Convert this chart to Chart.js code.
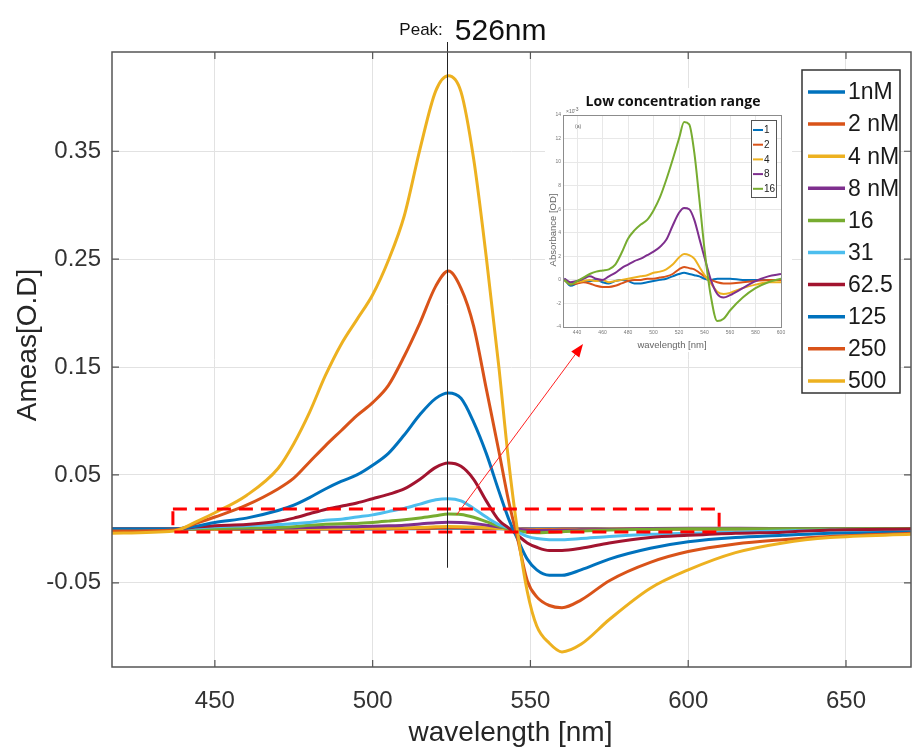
<!DOCTYPE html>
<html>
<head>
<meta charset="utf-8">
<title>Absorbance spectra</title>
<script src="https://cdn.jsdelivr.net/npm/chart.js@4.4.0/dist/chart.umd.min.js"></script>
<style>
  html, body { margin: 0; padding: 0; background: #fff; }
  #wrap { position: relative; width: 912px; height: 749px; overflow: hidden; }
  #main { position: absolute; left: 0; top: 0; }
  #inset { position: absolute; left: 545px; top: 88px; }
  #overlay { position: absolute; left: 0; top: 0; pointer-events: none; }
</style>
</head>
<body>
<div id="wrap">
  <canvas id="main" width="912" height="749"></canvas>
  <canvas id="inset" width="247" height="264"></canvas>
  <canvas id="overlay" width="912" height="749"></canvas>
</div>
<script>
// ---- main plot data (wavelength in nm, A_meas in O.D) ----
const wavelength = [417, 437, 445, 450, 460, 470, 475, 480, 485, 490,
  495, 500, 505, 510, 515, 520, 524, 528, 532, 536,
  540, 543, 546, 549, 552, 556, 560, 566, 575, 588,
  600, 615, 630, 645, 671];

const a1 = [0.0001, -0.0004, -0.0001, 0.0000, -0.0001, -0.0003, -0.0001, 0.0000, -0.0002, -0.0003,
  -0.0002, -0.0001, 0.0000, 0.0001, 0.0003, 0.0005, 0.0006, 0.0005, 0.0004, 0.0002,
  0.0001, 0.0000, 0.0000, 0.0001, 0.0001, 0.0001, 0.0001, 0.0001, 0.0000, 0.0000,
  0.0000, 0.0000, 0.0000, 0.0000, 0.0000];
const a2 = [0.0000, -0.0002, -0.0003, -0.0004, -0.0006, -0.0005, -0.0003, -0.0001, 0.0000, 0.0000,
  0.0001, 0.0001, 0.0002, 0.0003, 0.0005, 0.0009, 0.0011, 0.0010, 0.0009, 0.0006,
  0.0003, 0.0001, -0.0001, -0.0002, -0.0003, -0.0003, -0.0002, -0.0002, -0.0001, 0.0000,
  0.0000, 0.0000, 0.0000, 0.0000, 0.0000];
const a4 = [-0.0001, -0.0002, -0.0001, 0.0000, 0.0000, -0.0001, 0.0000, 0.0001, 0.0002, 0.0003,
  0.0004, 0.0006, 0.0007, 0.0009, 0.0013, 0.0019, 0.0022, 0.0021, 0.0018, 0.0011,
  0.0004, 0.0000, -0.0004, -0.0008, -0.0011, -0.0012, -0.0010, -0.0008, -0.0005, -0.0002,
  -0.0002, -0.0001, -0.0001, 0.0000, 0.0000];
const a8 = [0.0000, -0.0001, 0.0001, 0.0003, 0.0001, 0.0005, 0.0009, 0.0013, 0.0016, 0.0018,
  0.0021, 0.0024, 0.0028, 0.0034, 0.0046, 0.0057, 0.0061, 0.0060, 0.0051, 0.0035,
  0.0018, 0.0006, -0.0003, -0.0010, -0.0014, -0.0015, -0.0012, -0.0009, -0.0005, 0.0003,
  0.0005, 0.0005, 0.0004, 0.0003, 0.0002];
const a16 = [0.0000, 0.0000, 0.0002, 0.0004, 0.0008, 0.0012, 0.0020, 0.0034, 0.0042, 0.0048,
  0.0051, 0.0060, 0.0072, 0.0085, 0.0102, 0.0122, 0.0138, 0.0134, 0.0108, 0.0068,
  0.0026, -0.0002, -0.0020, -0.0032, -0.0035, -0.0031, -0.0026, -0.0019, -0.0011, -0.0003,
  0.0001, 0.0002, 0.0002, 0.0001, 0.0001];
const a31 = [0.000, 0.000, 0.001, 0.002, 0.003, 0.004, 0.005, 0.006, 0.008, 0.009,
  0.011, 0.013, 0.016, 0.019, 0.023, 0.027, 0.028, 0.026, 0.019, 0.011,
  0.004, 0.001, -0.003, -0.007, -0.009, -0.010, -0.010, -0.009, -0.007, -0.005,
  -0.004, -0.003, -0.002, -0.001, -0.001];
const a62 = [0.000, 0.000, 0.002, 0.003, 0.004, 0.007, 0.010, 0.014, 0.018, 0.021,
  0.024, 0.028, 0.032, 0.037, 0.046, 0.057, 0.061, 0.058, 0.046, 0.026,
  0.008, 0.001, -0.006, -0.013, -0.017, -0.020, -0.020, -0.018, -0.013, -0.008,
  -0.006, -0.004, -0.003, -0.001, 0.000];
const a125 = [0.000, 0.000, 0.003, 0.006, 0.010, 0.017, 0.022, 0.029, 0.037, 0.044,
  0.050, 0.059, 0.070, 0.087, 0.106, 0.121, 0.126, 0.121, 0.099, 0.070,
  0.035, 0.010, -0.010, -0.028, -0.038, -0.043, -0.043, -0.038, -0.028, -0.018,
  -0.012, -0.008, -0.006, -0.004, -0.003];
const a250 = [-0.002, -0.001, 0.006, 0.011, 0.022, 0.037, 0.047, 0.062, 0.077, 0.091,
  0.105, 0.117, 0.133, 0.160, 0.191, 0.225, 0.239, 0.223, 0.188, 0.130,
  0.072, 0.027, -0.010, -0.048, -0.063, -0.071, -0.073, -0.066, -0.048, -0.031,
  -0.021, -0.014, -0.010, -0.007, -0.004];
const a500 = [-0.004, -0.002, 0.008, 0.015, 0.031, 0.056, 0.079, 0.108, 0.142, 0.171,
  0.194, 0.217, 0.249, 0.290, 0.352, 0.406, 0.420, 0.405, 0.343, 0.252,
  0.150, 0.065, -0.004, -0.058, -0.090, -0.106, -0.114, -0.107, -0.084, -0.055,
  -0.038, -0.022, -0.013, -0.008, -0.005];

const mainLabels = ['1nM', '2 nM', '4 nM', '8 nM', '16', '31', '62.5', '125', '250', '500'];
const mainSeries = [a1, a2, a4, a8, a16, a31, a62, a125, a250, a500];
const xTicks = [450, 500, 550, 600, 650];
const yTicks = [-0.05, 0.05, 0.15, 0.25, 0.35];

// annotations
const peakWl = 523.5;
const zoomBoxWl = [436.7, 609.8];
const zoomBoxOD = [-0.0028, 0.0185];
const arrowFrom = [526.6, 0.013];

// ---- inset data (Absorbance x 10^-3) ----
const insetWl = [430, 435, 440, 445, 450, 455, 460, 465, 470, 475,
  480, 485, 490, 495, 500, 505, 510, 515, 520, 524,
  528, 532, 536, 540, 545, 550, 555, 560, 570, 580,
  590, 600];
const i1 = [0.1, -0.5, -0.3, -0.1, -0.1, 0.0, -0.2, -0.3, -0.1, 0.0,
  -0.1, -0.3, -0.3, -0.2, -0.1, 0.0, 0.1, 0.3, 0.5, 0.6,
  0.5, 0.4, 0.3, 0.1, 0.0, 0.1, 0.1, 0.1, 0.0, 0.0, 0.0, 0.0];
const i2 = [0.0, -0.4, -0.3, -0.2, -0.3, -0.5, -0.6, -0.6, -0.5, -0.3,
  -0.1, 0.0, 0.0, 0.1, 0.1, 0.2, 0.3, 0.5, 0.9, 1.1,
  1.0, 0.9, 0.6, 0.3, 0.0, -0.2, -0.3, -0.3, -0.2, -0.1, 0.0, 0.0];
const i4 = [0.0, -0.3, -0.2, -0.1, 0.0, -0.1, 0.0, -0.2, -0.1, 0.0,
  0.1, 0.2, 0.3, 0.4, 0.6, 0.7, 0.9, 1.3, 1.9, 2.2,
  2.1, 1.8, 1.1, 0.4, -0.3, -1.0, -1.2, -1.1, -0.7, -0.4, -0.2, -0.2];
const i8 = [0.1, -0.2, -0.1, 0.1, 0.3, 0.1, 0.0, 0.3, 0.6, 1.0,
  1.3, 1.6, 1.8, 2.1, 2.4, 2.8, 3.4, 4.6, 5.7, 6.1,
  6.0, 5.1, 3.5, 1.9, 0.0, -1.2, -1.5, -1.3, -0.7, -0.1, 0.3, 0.5];
const i16 = [0.0, -0.4, -0.1, 0.2, 0.5, 0.7, 0.8, 0.9, 1.3, 2.3,
  3.5, 4.2, 4.7, 5.1, 5.9, 7.0, 8.5, 10.2, 12.0, 13.4,
  13.2, 10.8, 6.8, 2.6, -1.4, -3.5, -3.3, -2.6, -1.5, -0.7, -0.2, 0.1];

const insetLabels = ['1', '2', '4', '8', '16'];
const insetSeries = [i1, i2, i4, i8, i16];
const insetXTicks = [440, 460, 480, 500, 520, 540, 560, 580, 600];

// matlab default colour order
const colors = ['#0072BD', '#D95319', '#EDB120', '#7E2F8E', '#77AC30', '#4DBEEE', '#A2142F'];
const mainColors = [0, 1, 2, 3, 4, 5, 6, 0, 1, 2].map(k => colors[k]);

const FONT = "'Liberation Sans', Arial, sans-serif";
const NARROW = "'Liberation Sans Narrow', 'Liberation Sans', Arial, sans-serif";

const mainDecor = {
  id: 'mainDecor',
  afterDatasetsDraw(chart) {
    const { ctx, scales: { x, y }, chartArea } = chart;
    ctx.save();
    // dashed zoom box
    const x0 = x.getPixelForValue(zoomBoxWl[0]);
    const x1 = x.getPixelForValue(zoomBoxWl[1]);
    const y0 = y.getPixelForValue(zoomBoxOD[1]);
    const y1 = y.getPixelForValue(zoomBoxOD[0]);
    ctx.strokeStyle = '#ff0000';
    ctx.lineWidth = 3;
    ctx.setLineDash([14, 8]);
    ctx.strokeRect(x0, y0, x1 - x0, y1 - y0);
    ctx.setLineDash([]);
    // peak marker
    const px = Math.round(x.getPixelForValue(peakWl)) + 0.5;
    ctx.strokeStyle = '#222';
    ctx.lineWidth = 1;
    ctx.beginPath();
    ctx.moveTo(px, chartArea.top - 10);
    ctx.lineTo(px, y.getPixelForValue(-0.036));
    ctx.stroke();
    ctx.restore();
  },
  afterDraw(chart) {
    const { ctx, scales: { x, y }, chartArea: a } = chart;
    ctx.save();
    // axes box
    ctx.strokeStyle = '#555';
    ctx.lineWidth = 1.5;
    ctx.strokeRect(a.left, a.top, a.right - a.left, a.bottom - a.top);
    // inward ticks
    ctx.lineWidth = 1.2;
    ctx.beginPath();
    xTicks.forEach(v => {
      const p = x.getPixelForValue(v);
      ctx.moveTo(p, a.bottom); ctx.lineTo(p, a.bottom - 7);
      ctx.moveTo(p, a.top); ctx.lineTo(p, a.top + 7);
    });
    yTicks.forEach(v => {
      const p = y.getPixelForValue(v);
      ctx.moveTo(a.left, p); ctx.lineTo(a.left + 7, p);
      ctx.moveTo(a.right, p); ctx.lineTo(a.right - 7, p);
    });
    ctx.stroke();

    // axis titles
    ctx.fillStyle = '#262626';
    ctx.font = '28px ' + FONT;
    ctx.textAlign = 'center';
    ctx.textBaseline = 'middle';
    ctx.fillText('wavelength [nm]', (a.left + a.right) / 2 - 1, 733);
    ctx.save();
    ctx.translate(36, 345);
    ctx.rotate(-Math.PI / 2);
    ctx.textBaseline = 'alphabetic';
    ctx.fillText('Ameas[O.D]', 0, 0);
    ctx.restore();

    // peak label
    const px = x.getPixelForValue(peakWl);
    ctx.textBaseline = 'alphabetic';
    ctx.textAlign = 'right';
    ctx.font = '17px ' + NARROW;
    ctx.fillStyle = '#111';
    ctx.fillText('Peak:', px - 4, 35);
    ctx.textAlign = 'left';
    ctx.font = '30px ' + NARROW;
    ctx.fillText('526nm', px + 8, 40);

    // legend
    const lx = 802, ly = 70, lw = 98, lh = 323;
    ctx.fillStyle = '#fff';
    ctx.fillRect(lx, ly, lw, lh);
    ctx.strokeStyle = '#333';
    ctx.lineWidth = 1.5;
    ctx.strokeRect(lx, ly, lw, lh);
    ctx.font = '23px ' + FONT;
    ctx.textBaseline = 'middle';
    ctx.textAlign = 'left';
    mainLabels.forEach((lab, i) => {
      const cy = 92 + i * 32.1;
      ctx.strokeStyle = mainColors[i];
      ctx.lineWidth = 3.5;
      ctx.beginPath();
      ctx.moveTo(808, cy); ctx.lineTo(845, cy);
      ctx.stroke();
      ctx.fillStyle = '#1a1a1a';
      ctx.fillText(lab, 848, cy + 1);
    });
    ctx.restore();
  }
};

const mainChart = new Chart(document.getElementById('main'), {
  type: 'line',
  data: {
    datasets: mainSeries.map((s, i) => ({
      label: mainLabels[i],
      data: wavelength.map((w, j) => ({ x: w, y: s[j] })),
      borderColor: mainColors[i],
      borderWidth: 3,
      pointRadius: 0,
      fill: false,
      cubicInterpolationMode: 'monotone',
      order: mainSeries.length - i
    }))
  },
  options: {
    responsive: false,
    animation: false,
    devicePixelRatio: 1,
    layout: { padding: { top: 52, right: 1, left: 0, bottom: 0 } },
    plugins: { legend: { display: false }, tooltip: { enabled: false } },
    scales: {
      x: {
        type: 'linear',
        min: 417.4,
        max: 670.6,
        afterBuildTicks: s => { s.ticks = xTicks.map(v => ({ value: v })); },
        afterFit: s => { s.height = 82; },
        grid: { color: '#e2e2e2', drawTicks: false },
        border: { display: false },
        ticks: {
          color: '#333', font: { size: 24, family: FONT }, padding: 20, maxRotation: 0,
          callback: v => String(v)
        }
      },
      y: {
        min: -0.128,
        max: 0.442,
        afterBuildTicks: s => { s.ticks = yTicks.map(v => ({ value: v })); },
        afterFit: s => { s.width = 112; },
        grid: { color: '#e2e2e2', drawTicks: false },
        border: { display: false },
        ticks: {
          color: '#333', font: { size: 24, family: FONT }, padding: 11,
          callback: v => v.toFixed(2)
        }
      }
    }
  },
  plugins: [mainDecor]
});

const insetDecor = {
  id: 'insetDecor',
  beforeDraw(chart) {
    const { ctx, width, height } = chart;
    ctx.save();
    ctx.fillStyle = '#fff';
    ctx.fillRect(0, 0, width, height);
    ctx.restore();
  },
  afterDraw(chart) {
    const { ctx, chartArea: a } = chart;
    ctx.save();
    ctx.strokeStyle = '#8c8c8c';
    ctx.lineWidth = 1;
    ctx.strokeRect(a.left + 0.5, a.top + 0.5, a.right - a.left, a.bottom - a.top);

    ctx.fillStyle = '#111';
    ctx.font = "bold 14px 'Open Sans', sans-serif";
    ctx.textAlign = 'center';
    ctx.textBaseline = 'middle';
    ctx.fillText('Low concentration range', 128, 14);

    ctx.fillStyle = '#666';
    ctx.font = '9.5px ' + FONT;
    ctx.fillText('wavelength [nm]', 127, 257);
    ctx.save();
    ctx.translate(8, 142);
    ctx.rotate(-Math.PI / 2);
    ctx.fillText('Absorbance [OD]', 0, 0);
    ctx.restore();

    ctx.font = '5px ' + FONT;
    ctx.textAlign = 'left';
    ctx.fillText('\u00d710', 21, 24);
    ctx.fillText('-3', 29, 22);
    ctx.fillText('(a)', 30, 39);

    // legend
    const lx = 206, ly = 32, lw = 25, lh = 77;
    ctx.fillStyle = '#fff';
    ctx.fillRect(lx, ly, lw, lh);
    ctx.strokeStyle = '#555';
    ctx.strokeRect(lx + 0.5, ly + 0.5, lw, lh);
    ctx.font = '10px ' + FONT;
    ctx.textBaseline = 'middle';
    insetLabels.forEach((lab, i) => {
      const cy = 42 + i * 14.7;
      ctx.strokeStyle = colors[i];
      ctx.lineWidth = 2;
      ctx.beginPath();
      ctx.moveTo(208, cy); ctx.lineTo(218, cy);
      ctx.stroke();
      ctx.fillStyle = '#222';
      ctx.fillText(lab, 219, cy + 0.5);
    });
    ctx.restore();
  }
};

const insetChart = new Chart(document.getElementById('inset'), {
  type: 'line',
  data: {
    datasets: insetSeries.map((s, i) => ({
      label: insetLabels[i],
      data: insetWl.map((w, j) => ({ x: w, y: s[j] })),
      borderColor: colors[i],
      borderWidth: 2,
      pointRadius: 0,
      fill: false,
      cubicInterpolationMode: 'monotone',
      order: insetSeries.length - i
    }))
  },
  options: {
    responsive: false,
    animation: false,
    devicePixelRatio: 1,
    layout: { padding: { top: 27, right: 11, left: 0, bottom: 0 } },
    plugins: { legend: { display: false }, tooltip: { enabled: false } },
    scales: {
      x: {
        type: 'linear',
        min: 429,
        max: 600,
        afterBuildTicks: s => { s.ticks = insetXTicks.map(v => ({ value: v })); },
        afterFit: s => { s.height = 25; },
        grid: { color: '#e8e8e8', drawTicks: false },
        border: { display: false },
        ticks: { color: '#777', font: { size: 5, family: FONT }, padding: 3, maxRotation: 0 }
      },
      y: {
        min: -4,
        max: 14,
        afterFit: s => { s.width = 18; },
        grid: { color: '#e8e8e8', drawTicks: false },
        border: { display: false },
        ticks: { stepSize: 2, color: '#777', font: { size: 5, family: FONT }, padding: 2 }
      }
    }
  },
  plugins: [insetDecor]
});

// pointer arrow from the zoom box up to the inset
(function drawArrow() {
  const ctx = document.getElementById('overlay').getContext('2d');
  const sx = mainChart.scales.x.getPixelForValue(arrowFrom[0]);
  const sy = mainChart.scales.y.getPixelForValue(arrowFrom[1]);
  const ex = 583, ey = 344;
  const ang = Math.atan2(ey - sy, ex - sx);
  ctx.strokeStyle = '#ff2020';
  ctx.fillStyle = '#ff0000';
  ctx.lineWidth = 1;
  ctx.beginPath();
  ctx.moveTo(sx, sy);
  ctx.lineTo(ex - 8 * Math.cos(ang), ey - 8 * Math.sin(ang));
  ctx.stroke();
  ctx.beginPath();
  ctx.moveTo(ex, ey);
  ctx.lineTo(ex - 13 * Math.cos(ang) + 5 * Math.sin(ang), ey - 13 * Math.sin(ang) - 5 * Math.cos(ang));
  ctx.lineTo(ex - 13 * Math.cos(ang) - 5 * Math.sin(ang), ey - 13 * Math.sin(ang) + 5 * Math.cos(ang));
  ctx.closePath();
  ctx.fill();
})();
</script>
</body>
</html>
